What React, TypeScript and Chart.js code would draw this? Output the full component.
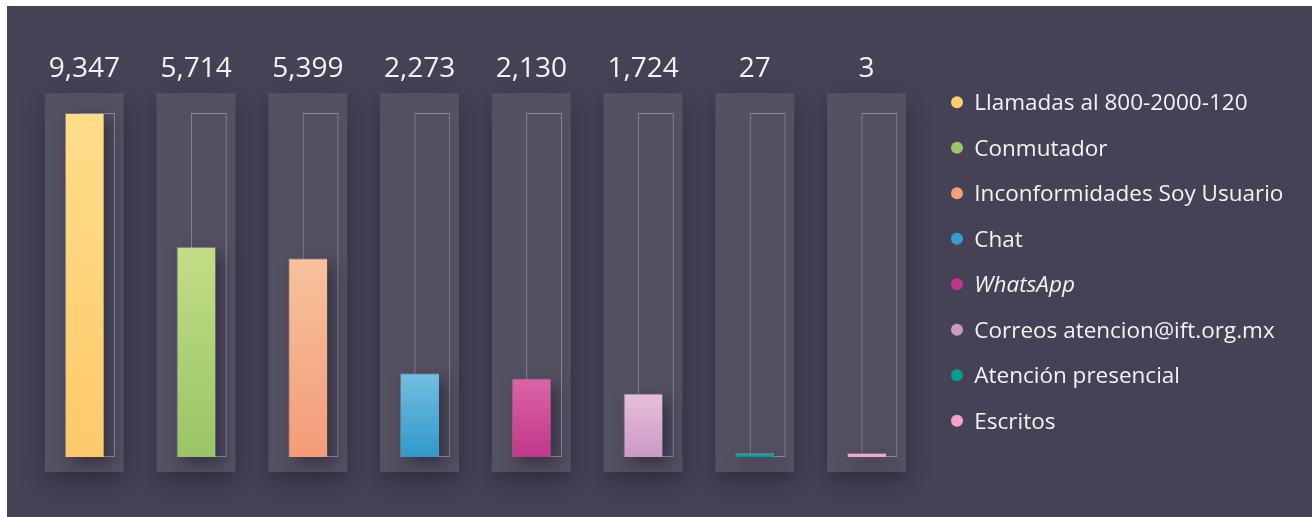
import { useEffect, useRef } from 'react';
import { Chart, registerables } from 'chart.js';

Chart.register(...registerables);

// ---- data ----
const categories = [
  'Llamadas al 800-2000-120',
  'Conmutador',
  'Inconformidades Soy Usuario',
  'Chat',
  'WhatsApp',
  'Correos atencion@ift.org.mx',
  'Atención presencial',
  'Escritos',
];
const values = [9347, 5714, 5399, 2273, 2130, 1724, 27, 3];
const outlineValues = [9347, 9347, 9347, 9347, 9347, 9347, 9347, 9347];
const valueLabels = ['9,347', '5,714', '5,399', '2,273', '2,130', '1,724', '27', '3'];
const topColors = ['#fedd8a', '#c3dd86', '#f7c29c', '#72bfe0', '#dc65a4', '#e6bfd9', '#16b3aa', '#f7b3cf'];
const bottomColors = ['#fdca69', '#98c566', '#f39c77', '#3098cc', '#c1378a', '#cb99c6', '#00948c', '#f4a2c6'];
const legendColors = ['#fdcd6e', '#9bc567', '#f4a07a', '#3a9bd0', '#c0378a', '#cc9ac6', '#069c94', '#f5a3c7'];
const italicItems = [false, false, false, false, true, false, false, false];

const BG = '#464256';
const PANEL = '#535062';
const TEXT = '#f4f2f7';
const FONT = "'Open Sans', 'DejaVu Sans', sans-serif";

const decorPlugin = {
  id: 'decor',
  beforeDatasetsDraw(chart: any) {
    const { ctx, chartArea } = chart;
    const meta = chart.getDatasetMeta(0);
    // panels
    meta.data.forEach((el: any) => {
      ctx.save();
      ctx.shadowColor = 'rgba(28,24,40,0.45)';
      ctx.shadowBlur = 22;
      ctx.shadowOffsetY = 10;
      ctx.fillStyle = PANEL;
      ctx.fillRect(el.x - 39.5, chartArea.top - 20, 79, chartArea.bottom - chartArea.top + 35);
      ctx.restore();
    });
    // bar shadows
    meta.data.forEach((el: any) => {
      const { x, y, base, width } = el.getProps(['x', 'y', 'base', 'width'], true);
      ctx.save();
      ctx.shadowColor = 'rgba(30,26,42,0.55)';
      ctx.shadowBlur = 16;
      ctx.shadowOffsetX = 7;
      ctx.shadowOffsetY = 7;
      ctx.fillStyle = PANEL;
      ctx.fillRect(x - width / 2, Math.min(y, base), width, Math.abs(base - y));
      ctx.restore();
    });
  },
  afterDraw(chart: any) {
    const { ctx, chartArea } = chart;
    const meta = chart.getDatasetMeta(0);
    ctx.save();
    // value labels
    ctx.fillStyle = TEXT;
    ctx.font = `500 28px ${FONT}`;
    ctx.textAlign = 'center';
    ctx.textBaseline = 'alphabetic';
    meta.data.forEach((el: any, i: number) => {
      ctx.fillText(valueLabels[i], el.x, chartArea.top - 36.3);
    });
    // legend
    ctx.textAlign = 'left';
    categories.forEach((label, i) => {
      const cx = chartArea.right + 28.2;
      const cy = chartArea.top - 10.7 + i * 45.5;
      ctx.beginPath();
      ctx.arc(cx, cy, 6, 0, Math.PI * 2);
      ctx.fillStyle = legendColors[i];
      ctx.fill();
      ctx.fillStyle = TEXT;
      ctx.font = `${italicItems[i] ? 'italic ' : ''}22.5px ${FONT}`;
      ctx.fillText(label, cx + 17.3, cy + 8.1);
    });
    ctx.restore();
  },
};

export default function App() {
  const ref = useRef<HTMLCanvasElement | null>(null);

  useEffect(() => {
    if (!ref.current) return;
    const chart = new Chart(ref.current, {
      type: 'bar',
      data: {
        labels: categories,
        datasets: [
          {
            label: 'Total',
            data: values,
            backgroundColor: (c: any) => {
              const i = c.dataIndex;
              const chartObj = c.chart;
              if (!chartObj.chartArea || c.type !== 'data') return bottomColors[i];
              const ys = chartObj.scales.y;
              const bottom = ys.getPixelForValue(0);
              let top = ys.getPixelForValue(c.parsed.y);
              if (bottom - top < 4) top = bottom - 4;
              const g = chartObj.ctx.createLinearGradient(0, top, 0, bottom);
              g.addColorStop(0, topColors[i]);
              g.addColorStop(1, bottomColors[i]);
              return g;
            },
            borderColor: 'rgba(150,140,158,0.55)',
            borderWidth: { top: 1, left: 1, right: 0, bottom: 0 },
            borderSkipped: false,
            categoryPercentage: 0.229,
            barPercentage: 3.05,
            minBarLength: 4,
          },
          {
            label: 'Máximo',
            data: outlineValues,
            backgroundColor: 'rgba(0,0,0,0)',
            borderColor: 'rgba(195,190,205,0.5)',
            borderWidth: 1,
            borderSkipped: false,
            categoryPercentage: 0.229,
            barPercentage: 2.81,
          },
        ],
      },
      options: {
        responsive: false,
        animation: false,
        layout: { padding: { left: 27.8, right: 383.2, top: 107, bottom: 60 } },
        scales: {
          x: { display: false },
          y: { display: false, min: 0, max: 9347 },
        },
        plugins: {
          legend: { display: false },
          tooltip: { enabled: false },
        },
      },
      plugins: [decorPlugin],
    } as any);
    return () => chart.destroy();
  }, []);

  return (
    <div style={{ position: 'fixed', left: 0, top: 0, width: 1312, height: 517, background: '#ffffff' }}>
      <div style={{ position: 'absolute', left: 7, top: 6, width: 1305, height: 511, background: BG }}>
        <canvas ref={ref} width={1305} height={511} style={{ width: 1305, height: 511, display: 'block' }} />
      </div>
    </div>
  );
}
